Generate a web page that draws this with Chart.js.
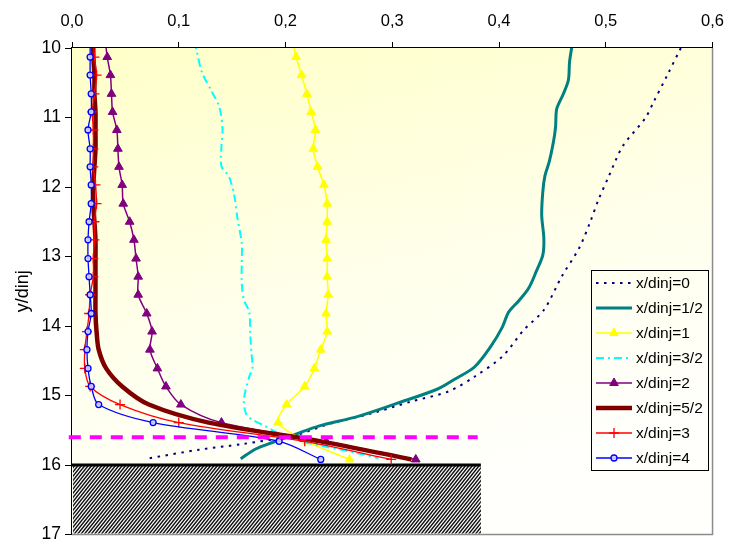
<!DOCTYPE html>
<html><head><meta charset="utf-8">
<script src="https://cdn.jsdelivr.net/npm/chart.js@4.4.1/dist/chart.umd.min.js"></script>
<style>html,body{margin:0;padding:0;background:#fff;} #wrap{width:735px;height:549px;}</style>
</head><body><div id="wrap"><canvas id="c" width="735" height="549"></canvas></div>
<script>
// ---- tick labels ----
const xTicks = [0, 0.1, 0.2, 0.3, 0.4, 0.5, 0.6];
const yTicks = [10, 11, 12, 13, 14, 15, 16, 17];
const seriesNames = ['x/dinj=0','x/dinj=1/2','x/dinj=1','x/dinj=3/2','x/dinj=2','x/dinj=5/2','x/dinj=3','x/dinj=4'];

// ---- x/dinj=0 (smooth, own y samples) ----
const s0Y = [9.9, 10.04, 10.38, 10.77, 11.01, 11.41, 11.84, 12.19, 12.52, 12.88, 13.28, 13.77, 14.06, 14.44, 14.73, 14.94, 15.09, 15.26, 15.40, 15.57, 15.70, 15.78, 15.91];
const s0X = [0.574, 0.569, 0.558, 0.545, 0.537, 0.516, 0.503, 0.493, 0.485, 0.475, 0.459, 0.442, 0.423, 0.403, 0.377, 0.353, 0.317, 0.280, 0.243, 0.209, 0.159, 0.119, 0.070];

// ---- x/dinj=1/2 ----
const s12Y = [9.9, 10.0, 10.21, 10.46, 10.67, 10.88, 11.13, 11.35, 11.64, 11.84, 12.07, 12.41, 12.74, 12.98, 13.21, 13.45, 13.63, 13.80, 14.02, 14.30, 14.59, 14.77, 14.91, 15.11, 15.30, 15.44, 15.56, 15.68, 15.77, 15.91];
const s12X = [0.469, 0.468, 0.466, 0.465, 0.460, 0.454, 0.453, 0.451, 0.447, 0.443, 0.441, 0.440, 0.442, 0.441, 0.435, 0.428, 0.419, 0.409, 0.403, 0.392, 0.377, 0.358, 0.342, 0.305, 0.268, 0.231, 0.209, 0.187, 0.172, 0.158];

// ---- x/dinj=3/2 ----
const s32Y = [9.9, 10.06, 10.36, 10.60, 10.85, 11.17, 11.41, 11.70, 11.85, 12.12, 12.45, 12.81, 13.09, 13.38, 13.62, 13.80, 14.13, 14.37, 14.61, 14.73, 15.06, 15.26, 15.34, 15.44, 15.54, 15.66, 15.83, 15.90];
const s32X = [0.115, 0.117, 0.122, 0.130, 0.138, 0.141, 0.140, 0.140, 0.147, 0.152, 0.155, 0.159, 0.159, 0.159, 0.161, 0.166, 0.167, 0.168, 0.169, 0.166, 0.161, 0.163, 0.168, 0.181, 0.193, 0.215, 0.268, 0.287];

// ---- common y sampling for the other series ----
const yGrid = [9.87, 10.13, 10.39, 10.66, 10.92, 11.18, 11.45, 11.71, 11.97, 12.24, 12.50, 12.76, 13.03, 13.29, 13.55, 13.82, 14.08, 14.34, 14.61, 14.87, 15.13, 15.39, 15.66, 15.92];
const s1X  = [0.206, 0.210, 0.215, 0.220, 0.224, 0.228, 0.226, 0.230, 0.236, 0.239, 0.239, 0.238, 0.239, 0.239, 0.240, 0.238, 0.239, 0.233, 0.227, 0.218, 0.201, 0.193, 0.220, 0.260];
const s2X  = [0.031, 0.033, 0.036, 0.037, 0.038, 0.042, 0.043, 0.044, 0.047, 0.048, 0.054, 0.058, 0.060, 0.062, 0.062, 0.070, 0.075, 0.073, 0.080, 0.088, 0.102, 0.140, 0.238, 0.322];
const s52X = [0.020, 0.020, 0.021, 0.021, 0.022, 0.022, 0.022, 0.021, 0.020, 0.020, 0.021, 0.022, 0.022, 0.022, 0.022, 0.022, 0.023, 0.025, 0.032, 0.047, 0.072, 0.128, 0.233, 0.318];
const s3X  = [0.020, 0.021, 0.023, 0.021, 0.019, 0.020, 0.020, 0.020, 0.022, 0.023, 0.021, 0.021, 0.020, 0.020, 0.017, 0.016, 0.014, 0.012, 0.012, 0.017, 0.045, 0.100, 0.218, 0.299];
const s4X  = [0.017, 0.017, 0.017, 0.018, 0.018, 0.015, 0.017, 0.017, 0.018, 0.018, 0.016, 0.015, 0.015, 0.016, 0.017, 0.018, 0.015, 0.014, 0.015, 0.018, 0.025, 0.076, 0.194, 0.233];

// ---- wall region and interface line ----
const wallX = [0, 0.383];
const wallY = [16, 17];
const interfaceX = [-0.003, 0.38];
const interfaceY = 15.6;

const pts = (xs, ys) => xs.map((v, i) => ({x: v, y: ys[i]}));
const FONT = 'Liberation Sans, Arial, sans-serif';

const datasets = [
  {label: seriesNames[0], data: pts(s0X, s0Y), borderColor: '#000080', borderWidth: 2, borderDash: [2.5, 5.5], pointRadius: 0, tension: 0.3},
  {label: seriesNames[1], data: pts(s12X, s12Y), borderColor: '#008080', borderWidth: 3, pointRadius: 0, tension: 0.3},
  {label: seriesNames[2], data: pts(s1X, yGrid), borderColor: '#FFFF00', borderWidth: 1.5, pointStyle: 'triangle', pointRadius: 5, pointBackgroundColor: '#FFFF00', pointBorderColor: '#FFFF00', pointBorderWidth: 1, tension: 0.3},
  {label: seriesNames[3], data: pts(s32X, s32Y), borderColor: '#00FFFF', borderWidth: 2, borderDash: [8, 4, 2, 4], pointRadius: 0, tension: 0.3},
  {label: seriesNames[4], data: pts(s2X, yGrid), borderColor: '#800080', borderWidth: 1.5, pointStyle: 'triangle', pointRadius: 5, pointBackgroundColor: '#800080', pointBorderColor: '#800080', pointBorderWidth: 1, tension: 0.3},
  {label: seriesNames[5], data: pts(s52X, yGrid), borderColor: '#800000', borderWidth: 4.5, pointRadius: 0, tension: 0.3},
  {label: seriesNames[6], data: pts(s3X, yGrid), borderColor: '#FF0000', borderWidth: 1.3, pointStyle: 'cross', pointRadius: 5, pointBorderColor: '#FF0000', pointBorderWidth: 1.3, tension: 0.3},
  {label: seriesNames[7], data: pts(s4X, yGrid), borderColor: '#0000FF', borderWidth: 1.3, pointStyle: 'circle', pointRadius: 3, pointBackgroundColor: 'rgba(210,210,255,0.9)', pointBorderColor: '#0000FF', pointBorderWidth: 1.3, tension: 0.3}
];
datasets.forEach((d, i) => { d.showLine = true; d.order = 20 - i; d.pointHoverRadius = d.pointRadius; });
datasets.push({label: 'interface', noLegend: true, data: interfaceX.map(v => ({x: v, y: interfaceY})), borderColor: '#FF00FF', borderWidth: 4, borderDash: [12, 9], pointRadius: 0, showLine: true, order: -1, clip: false});

const bgPlugin = {
  id: 'bg',
  beforeDatasetsDraw(chart) {
    const {ctx, chartArea: a, scales: {x, y}} = chart;
    ctx.save();
    const g = ctx.createLinearGradient(a.left, a.top, a.left + 120, a.bottom);
    g.addColorStop(0, '#FFFFC8');
    g.addColorStop(0.6, '#FFFFEC');
    g.addColorStop(1, '#FFFFFB');
    ctx.fillStyle = g;
    ctx.fillRect(a.left, a.top, a.right - a.left, a.bottom - a.top);
    // plot border right & bottom
    ctx.strokeStyle = '#8c8c8c'; ctx.lineWidth = 1.5;
    ctx.beginPath(); ctx.moveTo(a.right, a.top); ctx.lineTo(a.right, a.bottom); ctx.lineTo(a.left, a.bottom); ctx.stroke();
    // hatched wall
    const l = x.getPixelForValue(wallX[0]), r = x.getPixelForValue(wallX[1]);
    const t = y.getPixelForValue(wallY[0]), b = y.getPixelForValue(wallY[1]);
    ctx.save();
    ctx.beginPath(); ctx.rect(l + 1, t, r - l - 1, b - t - 1); ctx.clip();
    ctx.fillStyle = '#fff'; ctx.fillRect(l, t, r - l, b - t);
    ctx.strokeStyle = '#111'; ctx.lineWidth = 1.45;
    const h = b - t;
    for (let k = l - h; k < r + h; k += 3.4) {
      ctx.beginPath(); ctx.moveTo(k, b); ctx.lineTo(k + h * 0.8, t); ctx.stroke();
    }
    ctx.restore();
    ctx.fillStyle = '#000';
    ctx.fillRect(l, t - 1.5, r - l, 3);
    ctx.restore();
  }
};

const legendPlugin = {
  id: 'customLegend',
  afterDraw(chart) {
    const ctx = chart.ctx;
    const bx = 591, by = 270, bw = 117, bh = 200, rowH = 25, y0 = 283;
    ctx.save();
    ctx.strokeStyle = '#000'; ctx.lineWidth = 1;
    ctx.strokeRect(bx + 0.5, by + 0.5, bw, bh);
    let row = 0;
    chart.data.datasets.forEach(ds => {
      if (ds.noLegend) return;
      const yy = y0 + row * rowH;
      ctx.save();
      ctx.strokeStyle = ds.borderColor; ctx.lineWidth = ds.borderWidth;
      ctx.setLineDash(ds.borderDash || []);
      ctx.beginPath(); ctx.moveTo(596, yy); ctx.lineTo(632, yy); ctx.stroke();
      ctx.setLineDash([]);
      if (ds.pointRadius > 0) {
        ctx.fillStyle = ds.pointBackgroundColor || ds.borderColor;
        ctx.strokeStyle = ds.pointBorderColor || ds.borderColor;
        ctx.lineWidth = ds.pointBorderWidth || 1;
        Chart.helpers.drawPoint(ctx, {pointStyle: ds.pointStyle, radius: ds.pointRadius, rotation: 0, borderWidth: ds.pointBorderWidth || 1}, 614, yy);
      }
      ctx.restore();
      ctx.fillStyle = '#000'; ctx.font = '15.5px ' + FONT;
      ctx.textBaseline = 'middle'; ctx.textAlign = 'left';
      ctx.fillText(ds.label, 636, yy + 1);
      row++;
    });
    ctx.restore();
  }
};

new Chart(document.getElementById('c'), {
  type: 'scatter',
  data: {datasets},
  plugins: [bgPlugin, legendPlugin],
  options: {
    responsive: false, animation: false, devicePixelRatio: 1,
    layout: {padding: {left: 0, top: 0, right: 18, bottom: 9}},
    plugins: {legend: {display: false}, tooltip: {enabled: false}},
    events: [],
    scales: {
      x: {
        type: 'linear', position: 'top', min: 0, max: 0.6,
        afterBuildTicks: s => { s.ticks = xTicks.map(v => ({value: v})); },
        ticks: {callback: v => v.toFixed(1).replace('.', ','), font: {family: FONT, size: 16.5}, color: '#000', padding: 11, maxRotation: 0, autoSkip: false},
        grid: {drawOnChartArea: false, tickLength: 6, color: '#000', tickColor: '#000', tickWidth: 1},
        border: {color: '#000', width: 1.5},
        afterFit: s => { s.height = 48; }
      },
      y: {
        type: 'linear', position: 'left', reverse: true, min: 10, max: 17,
        afterBuildTicks: s => { s.ticks = yTicks.map(v => ({value: v})); },
        ticks: {font: {family: FONT, size: 17.5}, color: '#000', padding: 4, autoSkip: false},
        grid: {drawOnChartArea: false, tickLength: 7, color: '#000', tickColor: '#000', tickWidth: 1},
        border: {color: '#000', width: 1.5},
        title: {display: true, text: 'y/dinj', font: {family: FONT, size: 18}, color: '#000', padding: {top: 12, bottom: 0}},
        afterFit: s => { s.width = 72; }
      }
    }
  }
});
</script>
</body></html>
